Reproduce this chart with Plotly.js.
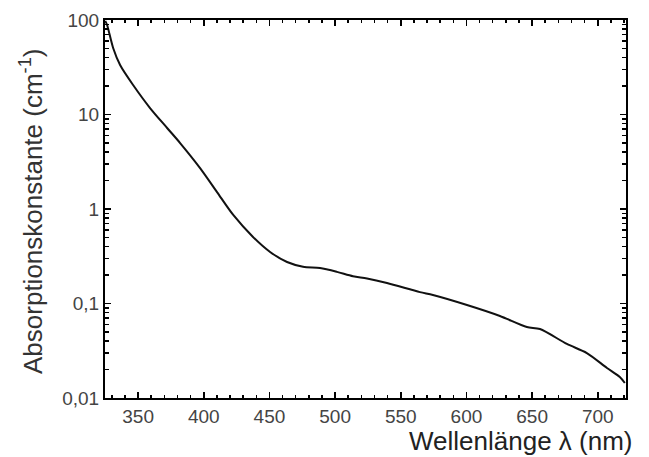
<!DOCTYPE html>
<html>
<head>
<meta charset="utf-8">
<script src="https://cdn.plot.ly/plotly-3.0.1.min.js"></script>
<style>html,body{margin:0;padding:0;background:#fff;}#chart{width:649px;height:457px;}</style>
</head>
<body>
<div id="chart"></div>
<script>
const wavelength = [325, 326.4, 331, 336.3, 346.2, 359.1, 372.1, 382, 397.2, 410.1, 422.3, 437.5, 450.5, 463.4, 475.6, 488.5, 501.4, 513.6, 524.3, 539.5, 564.6, 574.5, 600.4, 625.5, 646, 656, 676.5, 691.7, 707, 716.8, 720.6];
const absorption = [98, 88.5, 50.6, 33.4, 20.5, 11.7, 7.2, 4.99, 2.71, 1.51, 0.87, 0.506, 0.351, 0.275, 0.245, 0.237, 0.216, 0.194, 0.184, 0.165, 0.132, 0.123, 0.0964, 0.0738, 0.0564, 0.0537, 0.0373, 0.0299, 0.0208, 0.0167, 0.0144];
const yTickVals = [0.01, 0.1, 1, 10, 100];
const yTickText = ['0,01', '0,1', '1', '10', '100'];
const xTickVals = [350, 400, 450, 500, 550, 600, 650, 700];

const font = 'Liberation Sans, Arial, sans-serif';
const trace = {
  x: wavelength, y: absorption, type: 'scatter', mode: 'lines',
  line: {color: '#111', width: 2, shape: 'spline', smoothing: 0.8},
  hoverinfo: 'skip'
};
const layout = {
  width: 649, height: 457,
  margin: {l: 105, r: 23, t: 20, b: 59, pad: 0},
  paper_bgcolor: '#fff', plot_bgcolor: '#fff',
  showlegend: false,
  font: {family: font, color: '#444', size: 19},
  xaxis: {
    range: [324.8, 721.5], showgrid: false, zeroline: false,
    showline: true, linecolor: '#000', linewidth: 2, mirror: 'ticks',
    ticks: 'inside', ticklen: 6, tickwidth: 1.5, tickcolor: '#000',
    tickvals: xTickVals, ticktext: xTickVals.map(String),
    tickfont: {family: font, size: 19, color: '#444'},
    minor: {dtick: 10, ticks: 'inside', ticklen: 3, tickwidth: 1.5, tickcolor: '#000', showgrid: false}
  },
  yaxis: {
    type: 'log', range: [-2, 2], showgrid: false, zeroline: false,
    showline: true, linecolor: '#000', linewidth: 2, mirror: 'ticks',
    ticks: 'inside', ticklen: 6, tickwidth: 1.5, tickcolor: '#000',
    tickvals: yTickVals, ticktext: yTickText,
    tickfont: {family: font, size: 19, color: '#444'},
    minor: {dtick: 'D1', ticks: 'inside', ticklen: 4, tickwidth: 1.5, tickcolor: '#000', showgrid: false}
  },
  annotations: [
    {text: 'Absorptionskonstante (cm<sup>-1</sup>)', xref: 'paper', yref: 'paper', x: 0, y: 0.5,
     xanchor: 'center', yanchor: 'middle', xshift: -74, yshift: -3, textangle: -90, showarrow: false,
     font: {family: font, size: 26, color: '#333'}},
    {text: 'Wellenlänge λ (nm)', xref: 'paper', yref: 'paper', x: 1, y: 0,
     xanchor: 'right', yanchor: 'middle', xshift: 9, yshift: -43, showarrow: false,
     font: {family: font, size: 26, color: '#222'}}
  ]
};
Plotly.newPlot('chart', [trace], layout, {staticPlot: true, displayModeBar: false});
</script>
</body>
</html>
